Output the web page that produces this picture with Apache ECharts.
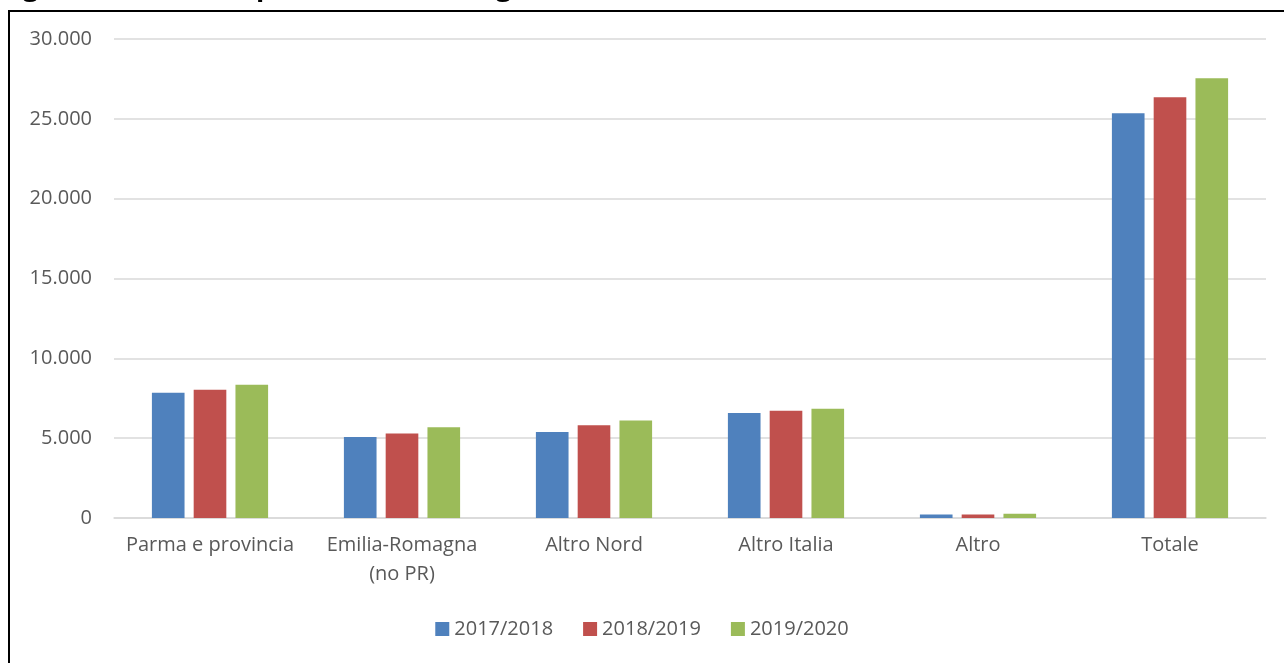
<!DOCTYPE html>
<html>
<head>
    <meta http-equiv="content-type" content="text/html;charset=utf-8" />
    <title>Iscritti per residenza anagrafica</title>
    <script src="https://cdn.jsdelivr.net/npm/echarts@6/dist/echarts.min.js"></script>
    <style type="text/css">
        * { margin: 0; padding: 0 }
        html, body { background: #fff; }
        #frame {
            position: absolute;
            left: 8px;
            top: 10px;
            width: 1290px;
            height: 670px;
            border: 2px solid #000;
            box-sizing: border-box;
        }
        #chart {
            position: absolute;
            left: 0;
            top: 0;
            width: 1284px;
            height: 663px;
        }
    </style>
</head>
<body>
<div id="frame"></div>
<div id="chart"></div>

<script>
    // dati
    var categorie = ['Parma e provincia', 'Emilia-Romagna\n(no PR)', 'Altro Nord', 'Altro Italia', 'Altro', 'Totale'];
    var anni = ['2017/2018', '2018/2019', '2019/2020'];
    var v2017 = [7840, 5080, 5390, 6580, 225, 25350];
    var v2018 = [8030, 5300, 5810, 6710, 225, 26350];
    var v2019 = [8340, 5680, 6100, 6850, 270, 27540];
    var colori = ['#4f81bd', '#c0504d', '#9bbb59'];

    var font = '"Open Sans", "Noto Sans", sans-serif';

    function fmt(v) {
        return String(v).replace(/\B(?=(\d{3})+(?!\d))/g, '.');
    }

    var chart = echarts.init(document.getElementById('chart'));
    var serie = [v2017, v2018, v2019];
    var series = [];
    for (var i = 0; i < serie.length; i++) {
        series.push({
            name: anni[i],
            type: 'bar',
            data: serie[i],
            barWidth: '17%',
            barGap: '28%',
            itemStyle: { color: colori[i] }
        });
    }

    chart.setOption({
        animation: false,
        textStyle: { fontFamily: font },
        graphic: [{
            type: 'text',
            left: 0,
            top: -25,
            style: {
                text: 'Figura 3.2: - Iscritti per residenza anagrafica',
                font: 'bold 27px ' + font,
                fill: '#000'
            }
        }],
        legend: {
            data: anni,
            bottom: 19,
            left: 'center',
            icon: 'rect',
            itemWidth: 14,
            itemHeight: 14,
            itemGap: 30,
            textStyle: { color: '#595959', fontSize: 20, fontFamily: font }
        },
        grid: { left: 114, right: 18, top: 39, bottom: 145 },
        xAxis: {
            type: 'category',
            data: categorie,
            axisTick: { show: false },
            axisLine: { lineStyle: { color: '#d9d9d9', width: 1.5 } },
            axisLabel: { color: '#595959', fontSize: 20, margin: 13, lineHeight: 29, interval: 0, fontFamily: font }
        },
        yAxis: {
            type: 'value',
            min: 0,
            max: 30000,
            interval: 5000,
            axisLine: { show: false },
            axisTick: { show: false },
            splitLine: { lineStyle: { color: '#d9d9d9', width: 1.5 } },
            axisLabel: {
                color: '#595959', fontSize: 20, margin: 22, fontFamily: font,
                formatter: function (v) { return fmt(v); }
            }
        },
        series: series
    });
</script>
</body>
</html>
